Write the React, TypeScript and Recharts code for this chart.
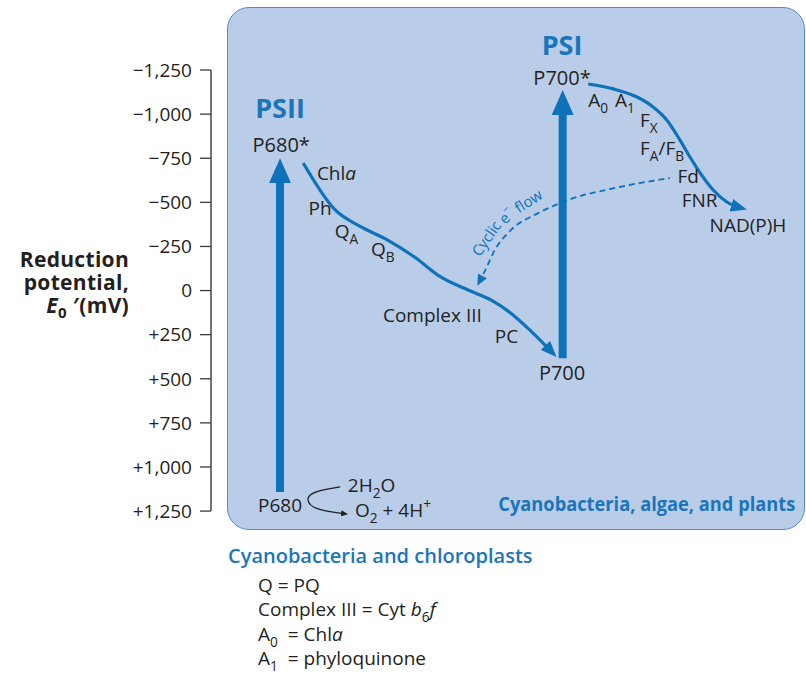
import React from 'react';
import { ComposedChart, Line, Scatter, XAxis, YAxis, ReferenceLine } from 'recharts';

const FONT = '"Open Sans", "Noto Sans", sans-serif';
const BLUE = '#0e72ba';
const TEXT_BLUE = '#1a75bb';
const INK = '#231f20';

const yTicks = [-1250, -1000, -750, -500, -250, 0, 250, 500, 750, 1000, 1250];

// x = position along the scheme (0-100), y = E0' in mV
const psiiExcitation = [{ x: 11.6, y: 1142 }, { x: 11.6, y: -694 }];
const psiExcitation = [{ x: 59.1, y: 383 }, { x: 59.1, y: -1080 }];

const psiiChain = [
  { x: 15.5, y: -723 },
  { x: 20.7, y: -463 },
  { x: 25.4, y: -358 },
  { x: 29.7, y: -286 },
  { x: 34.2, y: -190 },
  { x: 38.6, y: -77 },
  { x: 43.2, y: -3 },
  { x: 47.1, y: 54 },
  { x: 50.4, y: 128 },
  { x: 53.6, y: 224 },
  { x: 57.6, y: 360 },
];

const psiChain = [
  { x: 63.4, y: -1171 },
  { x: 67.6, y: -1143 },
  { x: 71.6, y: -1097 },
  { x: 74.3, y: -1041 },
  { x: 76.6, y: -967 },
  { x: 78.8, y: -854 },
  { x: 80.5, y: -757 },
  { x: 82.2, y: -667 },
  { x: 84.4, y: -570 },
  { x: 86.7, y: -502 },
  { x: 89.4, y: -465 },
];

const cyclicFlow = [
  { x: 45.0, y: -43 },
  { x: 46.1, y: -116 },
  { x: 47.7, y: -230 },
  { x: 50.4, y: -343 },
  { x: 55.0, y: -439 },
  { x: 60.0, y: -513 },
  { x: 68.7, y: -587 },
  { x: 77.1, y: -638 },
];

const waterSplit = [
  { x: 21.7, y: 1113 },
  { x: 17.6, y: 1142 },
  { x: 16.3, y: 1187 },
  { x: 18.0, y: 1238 },
  { x: 22.7, y: 1266 },
];

// _ subscript, ^ superscript, ~ italic (next character)
const systemLabels = [
  { x: 11.6, y: -978, text: 'PSII' },
  { x: 59.0, y: -1335, text: 'PSI' },
];

const centerLabels = [
  { x: 11.8, y: -786, text: 'P680*' },
  { x: 59.0, y: -1165, text: 'P700*' },
  { x: 59.0, y: 507, text: 'P700' },
];

const carrierLabels = [
  { x: 17.8, y: -627, text: 'Chl~a' },
  { x: 16.4, y: -429, text: 'Ph' },
  { x: 20.8, y: -298, text: 'Q_A' },
  { x: 26.9, y: -196, text: 'Q_B' },
  { x: 28.9, y: 178, text: 'Complex III' },
  { x: 47.7, y: 297, text: 'PC' },
  { x: 7.9, y: 1255, text: 'P680' },
  { x: 23.0, y: 1142, text: '2H_2O' },
  { x: 24.2, y: 1283, text: 'O_2 + 4H^+' },
  { x: 63.4, y: -1041, text: 'A_0' },
  { x: 67.9, y: -1041, text: 'A_1' },
  { x: 72.1, y: -927, text: 'F_X' },
  { x: 72.1, y: -769, text: 'F_A/F_B' },
  { x: 78.4, y: -610, text: 'Fd' },
  { x: 79.1, y: -474, text: 'FNR' },
  { x: 83.8, y: -332, text: 'NAD(P)H' },
];

const cyclicLabels = [
  { x: 46.2, y: -298, text: 'Cyclic' },
  { x: 49.6, y: -425, text: 'e^\u2212' },
  { x: 53.3, y: -510, text: 'flow' },
];
const cyclicAngles = [-55, -45, -33];

const organismLabels = [{ x: 98.2, y: 1249, text: 'Cyanobacteria, algae, and plants' }];

const fmtTick = (v: number) =>
  v === 0 ? '0' : (v < 0 ? '\u2212' : '+') + Math.abs(v).toLocaleString('en-US');

type Seg = { t: string; k: 'n' | 'sub' | 'sup' | 'it' };
const parse = (s: string): Seg[] => {
  const segs: Seg[] = [];
  for (let i = 0; i < s.length; i++) {
    let ch = s[i];
    let k: Seg['k'] = 'n';
    if ((ch === '_' || ch === '^' || ch === '~') && i + 1 < s.length) {
      k = ch === '_' ? 'sub' : ch === '^' ? 'sup' : 'it';
      ch = s[++i];
    }
    const last = segs[segs.length - 1];
    if (last && last.k === k) last.t += ch;
    else segs.push({ t: ch, k });
  }
  return segs;
};

const Rich = ({ text, size }: { text: string; size: number }) => {
  let cur = 0;
  return (
    <>
      {parse(text).map((s, i) => {
        const off = s.k === 'sub' ? size * 0.32 : s.k === 'sup' ? -size * 0.4 : 0;
        const dy = off - cur;
        cur = off;
        return (
          <tspan
            key={i}
            dy={dy}
            fontSize={s.k === 'sub' || s.k === 'sup' ? size * 0.72 : undefined}
            fontStyle={s.k === 'it' ? 'italic' : undefined}
          >
            {s.t}
          </tspan>
        );
      })}
    </>
  );
};

const textShape =
  (size: number, fill: string, anchor: string, weight = 400, extra: any = {}) =>
  (props: any) => {
    const { cx, cy, payload, index } = props;
    const rot = extra.angles ? extra.angles[index] : 0;
    return (
      <text
        x={cx}
        y={cy}
        fill={fill}
        fontSize={size}
        fontWeight={weight}
        fontFamily={FONT}
        textAnchor={anchor}
        dominantBaseline={extra.angles ? 'central' : undefined}
        textLength={extra.length}
        lengthAdjust={extra.length ? 'spacingAndGlyphs' : undefined}
        transform={rot ? `rotate(${rot} ${cx} ${cy})` : undefined}
        style={{ whiteSpace: 'pre' }}
      >
        <Rich text={payload.text} size={size} />
      </text>
    );
  };

const legendLines = ['Q = PQ', 'Complex III = Cyt ~b_6~f', 'A_0  = Chl~a', 'A_1  = phyloquinone'];

export default function App() {
  return (
    <div style={{ position: 'absolute', left: 0, top: 0, width: 806, height: 678, overflow: 'hidden', background: '#fff' }}>
      <div
        style={{
          position: 'absolute',
          left: 227,
          top: 7,
          width: 578,
          height: 523,
          boxSizing: 'border-box',
          border: '1.5px solid #4f8dd2',
          borderRadius: 22,
          background: '#b9cde9',
        }}
      />
      <div style={{ position: 'absolute', left: 0, top: 0 }}>
        <ComposedChart width={806} height={678} margin={{ top: 0, right: 0, bottom: 78, left: 0 }}>
          <defs>
            <marker id="bigHead" markerUnits="userSpaceOnUse" markerWidth={26} markerHeight={22} refX={15} refY={11} orient="auto">
              <path d="M0,0 L25,11 L0,22 Z" fill={BLUE} />
            </marker>
            <marker id="smallHead" markerUnits="userSpaceOnUse" markerWidth={17} markerHeight={13} refX={12} refY={6.5} orient="auto">
              <path d="M0,0 L16,6.5 L0,13 Z" fill={BLUE} />
            </marker>
            <marker id="dashHead" markerUnits="userSpaceOnUse" markerWidth={12} markerHeight={10} refX={8} refY={5} orient="auto-start-reverse">
              <path d="M0,0 L11,5 L0,10 Z" fill={BLUE} />
            </marker>
            <marker id="tinyHead" markerUnits="userSpaceOnUse" markerWidth={8} markerHeight={6} refX={5} refY={3} orient="auto">
              <path d="M0,0 L7,3 L0,6 Z" fill={INK} />
            </marker>
          </defs>
          <XAxis type="number" dataKey="x" domain={[0, 100]} hide />
          <YAxis
            type="number"
            dataKey="y"
            domain={[-1647, 1754]}
            reversed
            ticks={yTicks}
            interval={0}
            width={211}
            axisLine={false}
            tickLine={{ stroke: '#3a3a3a', strokeWidth: 1.3 }}
            tickSize={11}
            tickMargin={8}
            tick={{ fill: INK, fontSize: 19, fontFamily: FONT }}
            tickFormatter={fmtTick}
          />
          <ReferenceLine
            segment={[{ x: 0, y: -1250 }, { x: 0, y: 1250 }]}
            stroke="#3a3a3a"
            strokeWidth={1.4}
            ifOverflow="visible"
          />
          <Line data={psiiExcitation} dataKey="y" type="linear" stroke={BLUE} strokeWidth={8} dot={false} isAnimationActive={false} markerEnd="url(#bigHead)" />
          <Line data={psiExcitation} dataKey="y" type="linear" stroke={BLUE} strokeWidth={8} dot={false} isAnimationActive={false} markerEnd="url(#bigHead)" />
          <Line data={psiiChain} dataKey="y" type="monotone" stroke={BLUE} strokeWidth={3.2} dot={false} isAnimationActive={false} markerEnd="url(#smallHead)" />
          <Line data={psiChain} dataKey="y" type="monotone" stroke={BLUE} strokeWidth={3.2} dot={false} isAnimationActive={false} markerEnd="url(#smallHead)" />
          <Line data={cyclicFlow} dataKey="y" type="monotone" stroke={BLUE} strokeWidth={1.8} strokeDasharray="6 4" dot={false} isAnimationActive={false} markerStart="url(#dashHead)" />
          <Line data={waterSplit} dataKey="y" type="natural" stroke={INK} strokeWidth={1.3} dot={false} isAnimationActive={false} markerEnd="url(#tinyHead)" />
          <Scatter data={systemLabels} dataKey="y" isAnimationActive={false} shape={textShape(27, TEXT_BLUE, 'middle', 700)} />
          <Scatter data={centerLabels} dataKey="y" isAnimationActive={false} shape={textShape(20, INK, 'middle')} />
          <Scatter data={carrierLabels} dataKey="y" isAnimationActive={false} shape={textShape(19, INK, 'start')} />
          <Scatter data={cyclicLabels} dataKey="y" isAnimationActive={false} shape={textShape(15, BLUE, 'middle', 400, { angles: cyclicAngles })} />
          <Scatter data={organismLabels} dataKey="y" isAnimationActive={false} shape={textShape(19, TEXT_BLUE, 'end', 700, { length: 297 })} />
        </ComposedChart>
      </div>
      <svg width={806} height={678} style={{ position: 'absolute', left: 0, top: 0, pointerEvents: 'none' }}>
        <g fontFamily={FONT} fontWeight={700} fontSize={21} fill={INK} textAnchor="end" letterSpacing={0.3}>
          <text x={129} y={267}>Reduction</text>
          <text x={129} y={290}>potential,</text>
          <text x={129} y={313}>
            <tspan fontStyle="italic">E</tspan>
            <tspan dy={5} fontSize={15}>0</tspan>
            <tspan dy={-5}>{' \u2032(mV)'}</tspan>
          </text>
        </g>
        <text x={228} y={563} fontFamily={FONT} fontWeight={600} fontSize={20} fill={TEXT_BLUE}>
          Cyanobacteria and chloroplasts
        </text>
        {legendLines.map((l, i) => (
          <text key={i} x={258} y={592 + i * 24.3} fontFamily={FONT} fontSize={19} fill={INK} style={{ whiteSpace: 'pre' }}>
            <Rich text={l} size={19} />
          </text>
        ))}
      </svg>
    </div>
  );
}
